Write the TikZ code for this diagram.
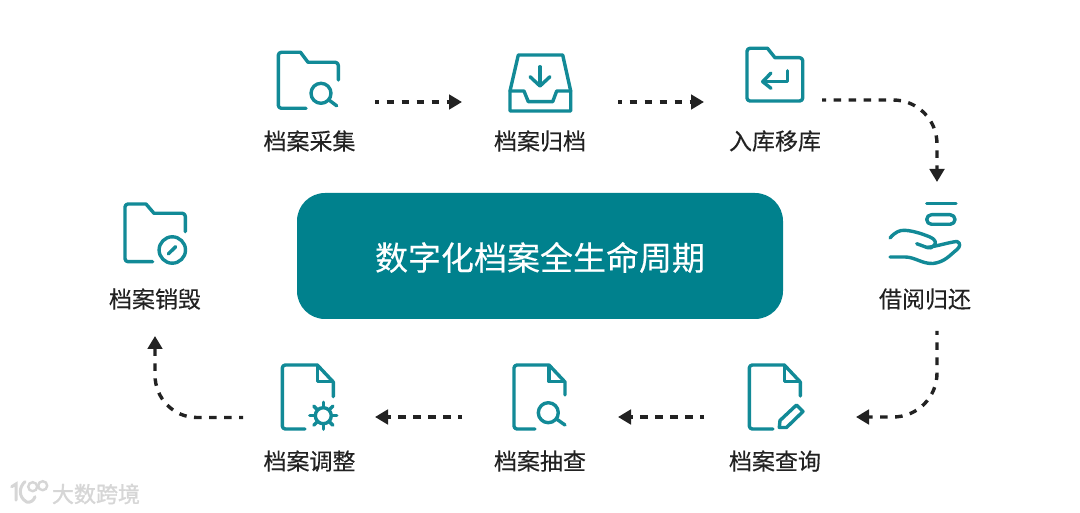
\documentclass[tikz,border=0pt]{standalone}
\usepackage{fontspec}
\usetikzlibrary{arrows.meta}
\newfontfamily\cjk[FakeBold=0.25]{Noto Sans CJK SC}
\newfontfamily\cjkwm[FakeBold=1.2]{Noto Sans CJK SC}
\definecolor{teal1}{HTML}{128A97}
\definecolor{boxteal}{HTML}{00818D}
\definecolor{ink}{HTML}{222222}
\definecolor{wmgray}{HTML}{D6D6D6}
\tikzset{
  icon/.style={draw=teal1,line width=3.4pt,line cap=round,line join=round},
  lbl/.style={font=\cjk\fontsize{23}{23}\selectfont,text=ink,inner sep=0pt,anchor=center},
  flow/.style={draw=ink,line width=3.4pt,dash pattern=on 7.5pt off 7.5pt,dash phase=3.5pt,
     -{Triangle[length=13pt,width=14.5pt]}}
}
\newcommand{\docicon}[3]{% x offset, right line end y, bottom line end x
  \draw[icon] (#3,429) -- (#1+3,429) arc[start angle=90,end angle=180,radius=3]
     -- (#1,368) arc[start angle=180,end angle=270,radius=3] -- (#1+35,365) -- (#1+51,382) -- (#1+51,#2);
  \draw[icon] (#1+35,366) -- (#1+35,381.5) -- (#1+50,381.5);
}
\begin{document}
\begin{tikzpicture}[x=1pt,y=-1pt]
\useasboundingbox (0,0) rectangle (1080,513);
\fill[white] (0,0) rectangle (1080,513);

% central box
\node[fill=boxteal,rounded corners=28pt,minimum width=486pt,minimum height=126pt,inner sep=0pt] (hub) at (540,256) {};
\node[inner sep=0pt,text=white,font=\cjk\fontsize{33}{33}\selectfont] (title) at (540,257.5) {数字化档案全生命周期};

% labels
\node[lbl] (l1) at (309.5,141) {档案采集};
\node[lbl] (l2) at (540,141) {档案归档};
\node[lbl] (l3) at (775,141) {入库移库};
\node[lbl] (l4) at (925,299) {借阅归还};
\node[lbl] (l5) at (775,461) {档案查询};
\node[lbl] (l6) at (540,461) {档案抽查};
\node[lbl] (l7) at (309.5,461) {档案调整};
\node[lbl] (l8) at (155,299) {档案销毁};

% icon 1: folder + search
\draw[icon] (306,108.3) -- (281.3,108.3) arc[start angle=90,end angle=180,radius=3]
  -- (278.3,55.3) arc[start angle=180,end angle=270,radius=3] -- (300.5,52.3) -- (308,62.3)
  -- (335.3,62.3) arc[start angle=-90,end angle=0,radius=3] -- (338.3,80);
\draw[icon] (321,93.3) circle[radius=10];
\draw[icon] (329,100) -- (336.7,105.8);

% icon 2: inbox
\draw[icon] (510,91) -- (518.3,55) -- (562.7,55) -- (570.7,91) -- (570.7,111) -- (510,111) -- cycle;
\draw[icon] (510,91) -- (524,91) -- (528.3,101.7) -- (552.7,101.7) -- (556.7,91) -- (570.7,91);
\draw[icon] (540,66.7) -- (540,85.7);
\draw[icon] (530,76.7) -- (540,86) -- (550,76.7);

% icon 3: folder + return
\draw[icon] (750,101) arc[start angle=90,end angle=180,radius=3] -- (747,51.3)
  arc[start angle=180,end angle=270,radius=3] -- (767.5,48.3) -- (775,57.7)
  -- (799.7,57.7) arc[start angle=-90,end angle=0,radius=3] -- (802.7,98)
  arc[start angle=0,end angle=90,radius=3] -- cycle;
\draw[icon] (787.3,70.7) -- (787.3,81.7) -- (763,81.7);
\draw[icon] (771,73) -- (762.7,81.7) -- (771,88.3);

% icon 4: hand
\draw[icon] (926.7,203.7) -- (956,203.7);
\draw[icon,rounded corners=4.8pt] (926.7,214.7) rectangle (955,224.3);
\draw[icon] (890,238) .. controls (895,232) and (900,230) .. (905,230.3)
  .. controls (915,231) and (925,235) .. (930,237)
  .. controls (935,239) and (937,243) .. (934,245.5)
  .. controls (932,248) and (930,248.5) .. (927,247.5) -- (916.7,243.7);
\draw[icon] (927,247.5) .. controls (938,246) and (950,242) .. (957,241.5)
  .. controls (961,243) and (960,247) .. (957,249.5)
  .. controls (950,255) and (945,262) .. (933,263.5)
  .. controls (922,264) and (915,257) .. (905,257) -- (890,257);

% icon 5: doc + pencil
\docicon{749.3}{396}{773}
\draw[icon] (779.3,427.5) -- (780,420.5) -- (796.5,405) -- (803,411.5) -- (786.5,427.5) -- cycle;

% icon 6: doc + search
\docicon{514}{395}{535}
\draw[icon] (548.3,412.7) circle[radius=10];
\draw[icon] (556.5,419) -- (565,425);

% icon 7: doc + gear
\docicon{282.3}{396.7}{305}
\draw[icon] (323.3,415.7) circle[radius=8];
\foreach \a in {0,45,...,315}
  \draw[icon] (323.3,415.7) ++(\a:8.5) -- ++(\a:5);

% icon 8: folder + forbidden
\draw[icon] (152.7,261.7) -- (128,261.7) arc[start angle=90,end angle=180,radius=3]
  -- (125,207) arc[start angle=180,end angle=270,radius=3] -- (146,204) -- (154,213.3)
  -- (182.3,213.3) arc[start angle=-90,end angle=0,radius=3] -- (185.3,231.7);
\draw[icon] (172.3,250) circle[radius=13.2];
\draw[icon] (168.3,254) -- (175.7,246.7);

% connector end points
\coordinate (a1) at (375,102);   \coordinate (b1) at (462,102);
\coordinate (a2) at (618,102);   \coordinate (b2) at (704,102);
\coordinate (a3) at (822,100);   \coordinate (k3a) at (893,100);
\coordinate (k3b) at (937,144);  \coordinate (b3) at (937,182);
\coordinate (a4) at (937,331);   \coordinate (k4a) at (937,373);
\coordinate (k4b) at (893,417);  \coordinate (b4) at (856,417);
\coordinate (a5) at (704,417);   \coordinate (b5) at (618,417);
\coordinate (a6) at (462,417);   \coordinate (b6) at (375,417);
\coordinate (a7) at (243,417.5); \coordinate (k7a) at (197,417.5);
\coordinate (k7b) at (155,375);  \coordinate (b7) at (155,336);

\draw[flow] (a1) -- (b1);
\draw[flow] (a2) -- (b2);
\draw[flow] (a3) -- (k3a) to[out=0,in=90] (k3b) -- (b3);
\draw[flow] (a4) -- (k4a) to[out=-90,in=0] (k4b) -- (b4);
\draw[flow] (a5) -- (b5);
\draw[flow] (a6) -- (b6);
\draw[flow] (a7) -- (k7a) to[out=180,in=-90] (k7b) -- (b7);

% watermark
\draw[draw=wmgray,line width=3pt,line cap=round] (11.7,486.7) -- (16,484) -- (16,500);
\draw[draw=wmgray,line width=3pt,line cap=round] (25,481.7) .. controls (19,487) and (18,497) .. (26.7,502)
  .. controls (31,503) and (34,500) .. (35,496.7);
\draw[draw=wmgray,line width=2.4pt] (32.7,486.7) circle[radius=4.5];
\draw[draw=wmgray,line width=2.4pt] (42.7,485.7) circle[radius=4.5];
\node[font=\cjkwm\fontsize{22}{22}\selectfont,text=wmgray,inner sep=0pt] (wm) at (96,494) {大数跨境};
\end{tikzpicture}
\end{document}
